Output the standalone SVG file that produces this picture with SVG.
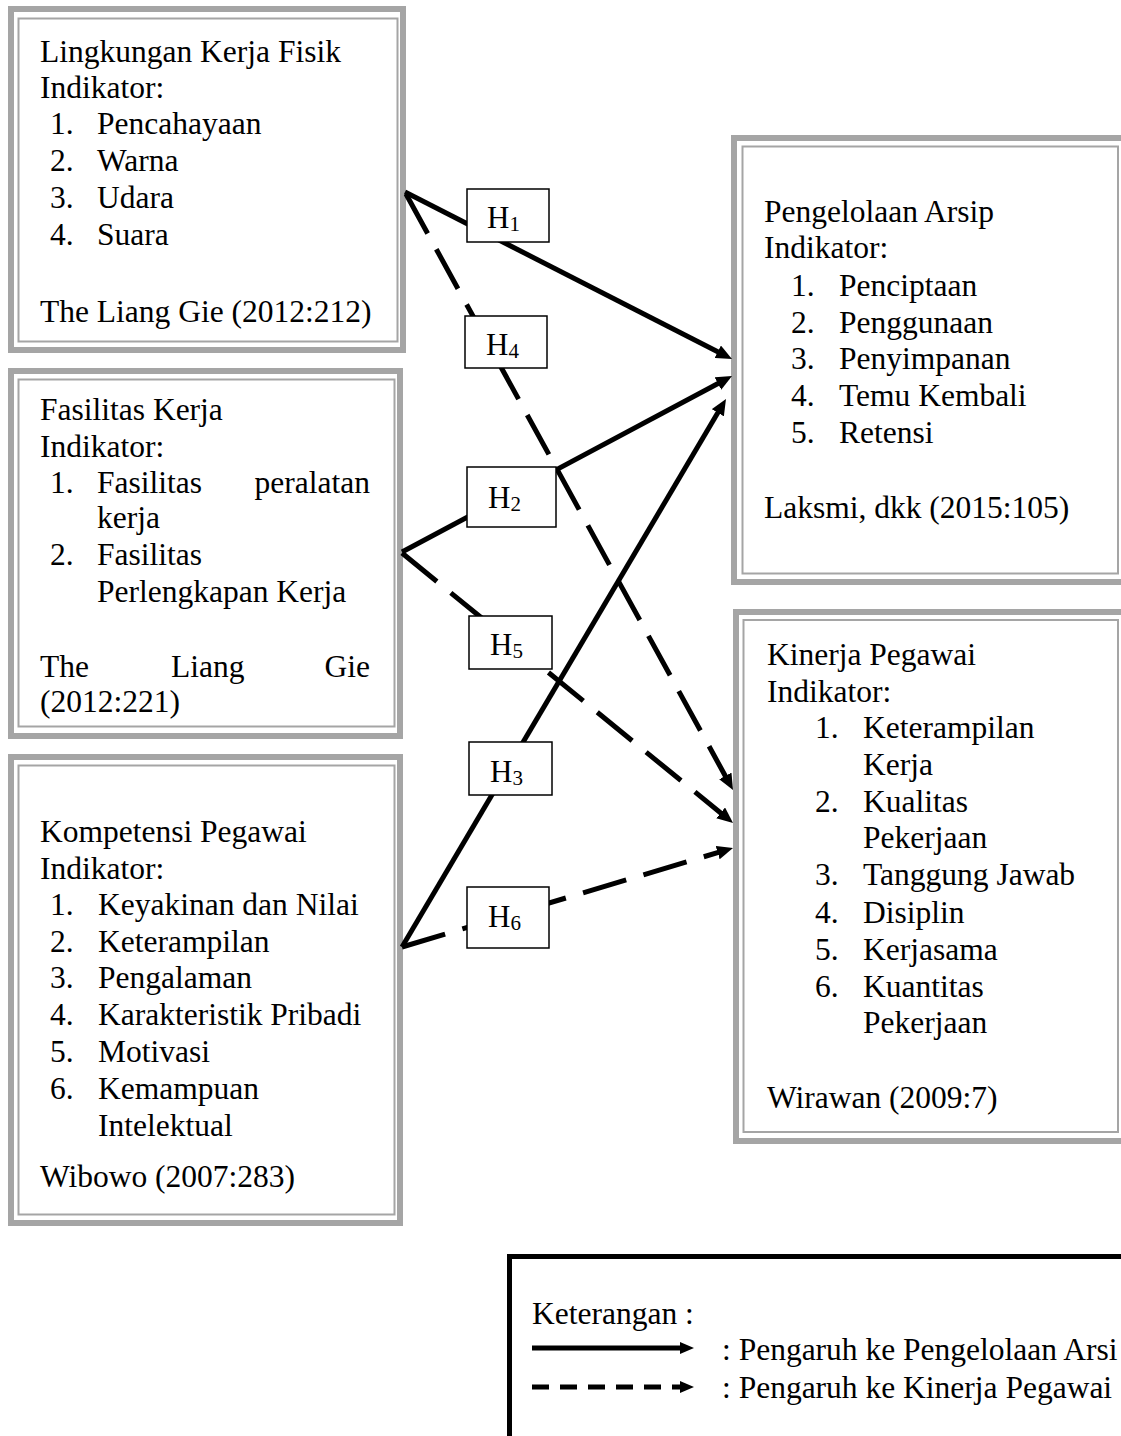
<svg xmlns="http://www.w3.org/2000/svg" width="1121" height="1436" viewBox="0 0 1121 1436">
<style>
  .frame{fill:#fff;stroke:#a5a5a5;stroke-width:6}
  .inner{fill:none;stroke:#a5a5a5;stroke-width:2}
  .t{font-family:"Liberation Serif","Times New Roman",serif;font-size:31.5px;fill:#000}
  .hl{font-family:"Liberation Serif","Times New Roman",serif;font-size:31px;fill:#000}
  .sub{font-size:21px}
  .hbox{fill:#fff;stroke:#000;stroke-width:1.5}
  .solid{fill:none;stroke:#000;stroke-width:5;marker-end:url(#ah)}
  .dash{fill:none;stroke:#000;stroke-width:5;stroke-dasharray:45 18;marker-end:url(#ah)}
</style>
<defs>
  <marker id="ah" markerUnits="userSpaceOnUse" markerWidth="16" markerHeight="14" refX="6" refY="7" orient="auto">
    <path d="M0,0 L16,7 L0,14 z" fill="#000"/>
  </marker>
  <marker id="ahs" markerUnits="userSpaceOnUse" markerWidth="14" markerHeight="12" refX="4" refY="6" orient="auto">
    <path d="M0,0 L14,6 L0,12 z" fill="#000"/>
  </marker>
</defs>
<rect width="1121" height="1436" fill="#fff"/>

<g id="node-lingkungan">
  <rect class="frame" x="11" y="9" width="392" height="341"/>
  <rect class="inner" x="18.5" y="18.5" width="379" height="323"/>
  <text class="t" x="40" y="62">Lingkungan Kerja Fisik</text>
  <text class="t" x="40" y="98">Indikator:</text>
  <text class="t" x="50" y="134">1.</text><text class="t" x="97" y="134">Pencahayaan</text>
  <text class="t" x="50" y="171">2.</text><text class="t" x="97" y="171">Warna</text>
  <text class="t" x="50" y="208">3.</text><text class="t" x="97" y="208">Udara</text>
  <text class="t" x="50" y="245">4.</text><text class="t" x="97" y="245">Suara</text>
  <text class="t" x="40" y="322">The Liang Gie (2012:212)</text>
</g>

<g id="node-fasilitas">
  <rect class="frame" x="11" y="371" width="389" height="365"/>
  <rect class="inner" x="18.5" y="379.5" width="376" height="347"/>
  <text class="t" x="40" y="420">Fasilitas Kerja</text>
  <text class="t" x="40" y="457">Indikator:</text>
  <text class="t" x="50" y="493">1.</text><text class="t" x="97" y="493">Fasilitas</text><text class="t" x="370" y="493" text-anchor="end">peralatan</text>
  <text class="t" x="97" y="528">kerja</text>
  <text class="t" x="50" y="565">2.</text><text class="t" x="97" y="565">Fasilitas</text>
  <text class="t" x="97" y="602">Perlengkapan Kerja</text>
  <text class="t" x="40" y="677">The</text><text class="t" x="171" y="677">Liang</text><text class="t" x="370" y="677" text-anchor="end">Gie</text>
  <text class="t" x="40" y="712">(2012:221)</text>
</g>

<g id="node-kompetensi">
  <rect class="frame" x="11" y="757" width="389" height="466"/>
  <rect class="inner" x="18.5" y="765.5" width="376" height="449"/>
  <text class="t" x="40" y="842">Kompetensi Pegawai</text>
  <text class="t" x="40" y="879">Indikator:</text>
  <text class="t" x="50" y="915">1.</text><text class="t" x="98" y="915">Keyakinan dan Nilai</text>
  <text class="t" x="50" y="952">2.</text><text class="t" x="98" y="952">Keterampilan</text>
  <text class="t" x="50" y="988">3.</text><text class="t" x="98" y="988">Pengalaman</text>
  <text class="t" x="50" y="1025">4.</text><text class="t" x="98" y="1025">Karakteristik Pribadi</text>
  <text class="t" x="50" y="1062">5.</text><text class="t" x="98" y="1062">Motivasi</text>
  <text class="t" x="50" y="1099">6.</text><text class="t" x="98" y="1099">Kemampuan</text>
  <text class="t" x="98" y="1136">Intelektual</text>
  <text class="t" x="40" y="1187">Wibowo (2007:283)</text>
</g>

<g id="node-pengelolaan">
  <rect class="frame" x="734" y="138" width="396" height="444"/>
  <rect class="inner" x="742.5" y="146.5" width="375.5" height="427"/>
  <text class="t" x="764" y="222">Pengelolaan Arsip</text>
  <text class="t" x="764" y="258">Indikator:</text>
  <text class="t" x="791" y="296">1.</text><text class="t" x="839" y="296">Penciptaan</text>
  <text class="t" x="791" y="333">2.</text><text class="t" x="839" y="333">Penggunaan</text>
  <text class="t" x="791" y="369">3.</text><text class="t" x="839" y="369">Penyimpanan</text>
  <text class="t" x="791" y="406">4.</text><text class="t" x="839" y="406">Temu Kembali</text>
  <text class="t" x="791" y="443">5.</text><text class="t" x="839" y="443">Retensi</text>
  <text class="t" x="764" y="518">Laksmi, dkk (2015:105)</text>
</g>

<g id="node-kinerja">
  <rect class="frame" x="736" y="612" width="394" height="529"/>
  <rect class="inner" x="743.5" y="620" width="374.5" height="512"/>
  <text class="t" x="767" y="665">Kinerja Pegawai</text>
  <text class="t" x="767" y="702">Indikator:</text>
  <text class="t" x="815" y="738">1.</text><text class="t" x="863" y="738">Keterampilan</text>
  <text class="t" x="863" y="775">Kerja</text>
  <text class="t" x="815" y="812">2.</text><text class="t" x="863" y="812">Kualitas</text>
  <text class="t" x="863" y="848">Pekerjaan</text>
  <text class="t" x="815" y="885">3.</text><text class="t" x="863" y="885">Tanggung Jawab</text>
  <text class="t" x="815" y="923">4.</text><text class="t" x="863" y="923">Disiplin</text>
  <text class="t" x="815" y="960">5.</text><text class="t" x="863" y="960">Kerjasama</text>
  <text class="t" x="815" y="997">6.</text><text class="t" x="863" y="997">Kuantitas</text>
  <text class="t" x="863" y="1033">Pekerjaan</text>
  <text class="t" x="767" y="1108">Wirawan (2009:7)</text>
</g>

<g id="connectors">
  <line class="solid" x1="405" y1="192" x2="723.1" y2="354.5"/>
  <line class="dash" x1="406" y1="194" x2="728.2" y2="781.2"/>
  <line class="solid" x1="402" y1="552" x2="723.2" y2="380.7"/>
  <line class="dash" x1="402" y1="553" x2="725.3" y2="816.7"/>
  <line class="solid" x1="402" y1="947" x2="720.9" y2="407.6"/>
  <line class="dash" x1="402" y1="947" x2="723.4" y2="850.9"/>
</g>

<g id="label-h1">
  <rect class="hbox" x="467" y="189" width="82" height="53"/>
  <text class="hl" x="487" y="228">H<tspan class="sub" dy="3">1</tspan></text>
</g>
<g id="label-h4">
  <rect class="hbox" x="465" y="316" width="82" height="52"/>
  <text class="hl" x="486" y="355">H<tspan class="sub" dy="3">4</tspan></text>
</g>
<g id="label-h2">
  <rect class="hbox" x="467" y="467" width="89" height="60"/>
  <text class="hl" x="488" y="508">H<tspan class="sub" dy="3">2</tspan></text>
</g>
<g id="label-h5">
  <rect class="hbox" x="469" y="616" width="83" height="53"/>
  <text class="hl" x="490" y="655">H<tspan class="sub" dy="3">5</tspan></text>
</g>
<g id="label-h3">
  <rect class="hbox" x="469" y="742" width="83" height="53"/>
  <text class="hl" x="490" y="782">H<tspan class="sub" dy="3">3</tspan></text>
</g>
<g id="label-h6">
  <rect class="hbox" x="467" y="887" width="82" height="61"/>
  <text class="hl" x="488" y="927">H<tspan class="sub" dy="3">6</tspan></text>
</g>

<g id="legend">
  <rect x="509.5" y="1256.5" width="700" height="300" fill="#fff" stroke="#000" stroke-width="5"/>
  <text class="t" x="532" y="1324">Keterangan :</text>
  <line x1="532" y1="1348" x2="684" y2="1348" stroke="#000" stroke-width="5" marker-end="url(#ahs)"/>
  <text class="t" x="722" y="1360">: Pengaruh ke Pengelolaan Arsi</text>
  <line x1="532" y1="1387" x2="684" y2="1387" stroke="#000" stroke-width="5" stroke-dasharray="17 11" marker-end="url(#ahs)"/>
  <text class="t" x="722" y="1398">: Pengaruh ke Kinerja Pegawai</text>
</g>
</svg>
